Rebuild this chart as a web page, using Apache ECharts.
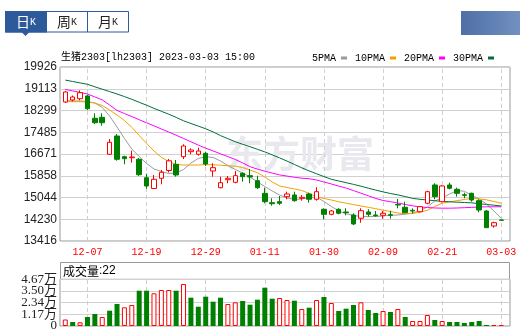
<!DOCTYPE html>
<html>
<head>
<meta charset="utf-8">
<script src="https://cdn.jsdelivr.net/npm/echarts@6/dist/echarts.min.js"></script>
<style>
  html, body { margin: 0; padding: 0; background: #fff; }
  #chart { width: 520px; height: 334px; }
</style>
</head>
<body>
<div id="chart"></div>
<script>
// trading days shown on the K-line
const dates = [
  '12-02', '12-05', '12-06', '12-07', '12-08', '12-09', '12-12', '12-13', '12-14', '12-15',
  '12-16', '12-19', '12-20', '12-21', '12-22', '12-23', '12-26', '12-27', '12-28', '12-29',
  '12-30', '01-03', '01-04', '01-05', '01-06', '01-09', '01-10', '01-11', '01-12', '01-13',
  '01-16', '01-17', '01-18', '01-19', '01-20', '01-30', '01-31', '02-01', '02-02', '02-03',
  '02-06', '02-07', '02-08', '02-09', '02-10', '02-13', '02-14', '02-15', '02-16', '02-17',
  '02-20', '02-21', '02-22', '02-23', '02-24', '02-27', '02-28', '03-01', '03-02', '03-03'
];

// [open, close, low, high]
const ohlc = [
  [18617, 18991, 18580, 19028], [18692, 18804, 18636, 18860], [18740, 18965, 18680, 19054],
  [18841, 18366, 18318, 18890], [18007, 17842, 17794, 18194], [18044, 17842, 17730, 18194],
  [16660, 17109, 16634, 17233], [17345, 16473, 16421, 17420], [16570, 16496, 16286, 16608],
  [16533, 16559, 16346, 16795], [16473, 15897, 15849, 16522], [15785, 15474, 15373, 15934],
  [15381, 15725, 15373, 15886], [15762, 15987, 15538, 16071], [16054, 16417, 15979, 16484],
  [16286, 15886, 15823, 16447], [16570, 16971, 16484, 17034], [16757, 16821, 16660, 16885],
  [16660, 16783, 16608, 16907], [16697, 16297, 16222, 16757], [16035, 16159, 15823, 16323],
  [15411, 15598, 15388, 15823], [15710, 15762, 15575, 15849], [15613, 15860, 15575, 16035],
  [15950, 15823, 15635, 15987], [15860, 15812, 15575, 16110], [15673, 15411, 15362, 15860],
  [15201, 14888, 14828, 15411], [14850, 14812, 14738, 15014], [14888, 14828, 14763, 15100],
  [15074, 15175, 14977, 15261], [15138, 14924, 14888, 15261], [15014, 15051, 14924, 15138],
  [15175, 14977, 14850, 15224], [14977, 15261, 14924, 15426], [14603, 14415, 14228, 14640],
  [14415, 14539, 14378, 14576], [14603, 14453, 14415, 14640], [14502, 14477, 14378, 14640],
  [14389, 14053, 14015, 14453], [14266, 14550, 14101, 14640], [14502, 14415, 14326, 14603],
  [14389, 14363, 14326, 14539], [14378, 14453, 14251, 14539], [14400, 14378, 14251, 14550],
  [14780, 14763, 14640, 14988], [14677, 14477, 14453, 14887], [14565, 14539, 14453, 14640],
  [14513, 14700, 14490, 14726], [14827, 15261, 14790, 15298], [15512, 15074, 14977, 15575],
  [14887, 15475, 14864, 15512], [15512, 15388, 15350, 15598], [15350, 15201, 15074, 15411],
  [15149, 15125, 15014, 15224], [15201, 14950, 14887, 15224], [14925, 14576, 14490, 14976],
  [14539, 13914, 13914, 14576], [13978, 14101, 13914, 14139], [14202, 14190, 14180, 14214]
];

const ma5 = [
  18673, 18654, 18654, 18635, 18579, 18411, 18093, 17681, 17251, 16858,
  16578, 16316, 16110, 16017, 15942, 15961, 16091, 16335, 16503, 16570,
  16540, 16409, 16241, 16091, 15961, 15811, 15624, 15455, 15287, 15138,
  15025, 14969, 14988, 15044, 15063, 14894, 14707, 14539, 14434, 14371,
  14333, 14326, 14333, 14352, 14378, 14389, 14419, 14464, 14558, 14689,
  14913, 15025, 15175, 15298, 15280, 15119, 14995, 14801, 14539, 14259
];
const ma10 = [
  18628, 18628, 18628, 18617, 18579, 18486, 18317, 18130, 17925, 17670,
  17363, 17068, 16784, 16548, 16383, 16279, 16260, 16260, 16260, 16271,
  16271, 16252, 16230, 16215, 16166, 16073, 15968, 15811, 15624, 15474,
  15418, 15362, 15306, 15194, 15074, 15007, 14950, 14883, 14831, 14778,
  14726, 14677, 14625, 14569, 14520, 14464, 14434, 14445, 14494, 14565,
  14707, 14831, 14876, 14924, 14969, 15014, 14988, 14958, 14894, 14827
];
const ma20 = [
  19088, 19032, 18976, 18916, 18807, 18695, 18504, 18302, 18186, 18070,
  17954, 17839, 17723, 17607, 17491, 17375, 17251, 17128, 17004, 16888,
  16784, 16679, 16574, 16466, 16338, 16196, 16106, 16028, 15957, 15889,
  15845, 15800, 15766, 15747, 15698, 15624, 15549, 15471, 15396, 15302,
  15205, 15108, 15007, 14932, 14887, 14838, 14782, 14733, 14689, 14670,
  14651, 14644, 14644, 14651, 14662, 14674, 14689, 14696, 14696, 14696
];
const ma30 = [
  19436, 19384, 19331, 19279, 19185, 19095, 19006, 18916, 18819, 18718,
  18605, 18497, 18377, 18269, 18160, 18041, 17913, 17812, 17715, 17614,
  17498, 17360, 17244, 17131, 17034, 16944, 16847, 16750, 16638, 16525,
  16406, 16279, 16155, 16039, 15931, 15826, 15725, 15661, 15598, 15534,
  15467, 15392, 15321, 15253, 15193, 15141, 15078, 15010, 14976, 14950,
  14924, 14898, 14883, 14868, 14857, 14842, 14812, 14782, 14756, 14726
];

// 成交量 (lots) and its colour: 1 = red (hollow), 0 = green
const volumes = [
  6500, 4000, 3700, 9000, 12000, 9000, 15300, 22000, 18700, 21000,
  35300, 35300, 32700, 36000, 36000, 35300, 42000, 28300, 19300, 29300,
  24300, 28300, 22000, 23700, 25000, 21300, 26300, 38300, 27300, 28000,
  26000, 25300, 17000, 18300, 26000, 29000, 23000, 15000, 17300, 21000,
  23700, 16000, 13000, 15000, 14000, 17000, 9000, 5000, 5000, 11000,
  6000, 5000, 4000, 4000, 3000, 4000, 5000, 1000, 1000, 22
];
const volUp = [
  1, 0, 1, 0, 0, 1, 0, 0, 1, 1,
  0, 0, 1, 1, 1, 0, 1, 0, 0, 0,
  0, 0, 1, 1, 0, 0, 0, 0, 0, 1,
  1, 0, 1, 0, 1, 0, 1, 0, 0, 0,
  1, 0, 0, 1, 0, 1, 0, 1, 1, 1,
  0, 1, 0, 0, 0, 0, 0, 0, 1, 1
];

const tickDates = ['12-07', '12-19', '12-29', '01-11', '01-30', '02-09', '02-21', '03-03'];
const priceTicks = ['13416', '14230', '15044', '15858', '16671', '17485', '18299', '19113', '19926'];
const volTicks = ['0', '1.17万', '2.34万', '3.50万', '4.67万'];
const volMax = 46700;

const RED = '#ff0000';
const GREEN = '#008000';
const BLUE = '#2d5a9b';
const FRAME = '#999';
const GRIDLINE = '#d0d0d0';
const MONO = "'Liberation Mono', 'Noto Sans CJK SC', monospace";

const chart = echarts.init(document.getElementById('chart'), null, { renderer: 'canvas' });

const vLines = {
  silent: true,
  symbol: 'none',
  z: 1,
  animation: false,
  label: { show: false },
  lineStyle: { color: GRIDLINE, type: [4, 3], width: 1 },
  data: tickDates.map((d) => ({ xAxis: d }))
};

const maLine = (name, data, color) => ({
  name,
  type: 'line',
  xAxisIndex: 1,
  yAxisIndex: 1,
  data,
  showSymbol: false,
  symbol: 'none',
  lineStyle: { width: 1, color },
  itemStyle: { color },
  z: 3
});

const tab = (label, cx, color) => ({
  type: 'text',
  x: cx,
  y: 21.5,
  style: {
    text: '{a|' + label + '}{b|K}',
    align: 'center',
    verticalAlign: 'middle',
    fill: color,
    rich: {
      a: { fontSize: 14, fontFamily: 'Noto Sans CJK SC', fill: color },
      b: { fontSize: 10, fontFamily: 'Liberation Mono', fill: color, padding: [2, 0, 0, 0] }
    }
  }
});

// volume tick labels are split over two axes so none of them gets hidden
const volAxis = (values, withLines) => ({
  type: 'value',
  gridIndex: 2,
  position: 'left',
  min: 0,
  max: volTicks.length - 1,
  interval: 1,
  axisLine: { show: false },
  axisTick: { show: false },
  splitLine: { show: withLines, lineStyle: { color: GRIDLINE, width: 1 } },
  axisLabel: {
    customValues: values,
    formatter: (v) => volTicks[v],
    showMinLabel: true,
    showMaxLabel: true,
    color: '#222',
    fontSize: 13,
    fontFamily: "'Liberation Serif', 'Noto Sans CJK SC'",
    margin: 3,
    padding: [0, 0, 3, 0]
  }
});

const option = {
  animation: false,
  title: {
    text: '生猪2303[lh2303] 2023-03-03 15:00',
    left: 56,
    top: 47,
    textStyle: { fontSize: 10, fontWeight: 'normal', fontFamily: MONO, color: '#000' }
  },
  legend: {
    right: 21,
    top: 48,
    align: 'right',
    icon: 'rect',
    itemWidth: 6,
    itemHeight: 3,
    itemGap: 8,
    textStyle: { fontSize: 10, fontFamily: MONO, color: '#000' },
    data: ['5PMA', '10PMA', '20PMA', '30PMA']
  },
  grid: [
    { left: 60, top: 67, width: 450, height: 174, show: true, borderColor: FRAME, borderWidth: 1 },
    { left: 61.6, top: 67, width: 443.4, height: 174 },
    { left: 60, top: 279.3, width: 450, height: 46.7, show: true, borderColor: FRAME, borderWidth: 1 },
    { left: 61.6, top: 279.3, width: 443.4, height: 46.7 }
  ],
  xAxis: [
    { type: 'value', gridIndex: 0, min: 0, max: 1, show: false },
    {
      type: 'category',
      gridIndex: 1,
      data: dates,
      boundaryGap: true,
      axisLine: { show: false },
      axisTick: { show: false },
      splitLine: { show: false },
      axisLabel: {
        interval: (i, v) => tickDates.includes(v),
        color: RED,
        fontSize: 10,
        fontFamily: 'Liberation Mono',
        margin: 6
      }
    },
    { type: 'value', gridIndex: 2, min: 0, max: 1, show: false },
    { type: 'category', gridIndex: 3, data: dates, boundaryGap: true, show: false }
  ],
  yAxis: [
    {
      type: 'value',
      gridIndex: 0,
      min: 0,
      max: priceTicks.length - 1,
      interval: 1,
      axisLine: { show: false },
      axisTick: { show: false },
      splitLine: { lineStyle: { color: GRIDLINE, width: 1 } },
      axisLabel: {
        formatter: (v) => priceTicks[v],
        showMinLabel: true,
        showMaxLabel: true,
        color: '#222',
        fontSize: 12,
        fontFamily: 'Liberation Sans',
        margin: 3
      }
    },
    {
      type: 'value',
      gridIndex: 1,
      min: Number(priceTicks[0]),
      max: Number(priceTicks[priceTicks.length - 1]),
      show: false
    },
    volAxis([0, 2, 4], true),
    { type: 'value', gridIndex: 3, min: 0, max: volMax, show: false },
    volAxis([1, 3], false)
  ],
  graphic: [
    // 日K / 周K / 月K tabs
    { type: 'rect', shape: { x: 5.5, y: 11.5, width: 123, height: 20.5 }, style: { fill: '#fff', stroke: BLUE, lineWidth: 1 } },
    { type: 'rect', shape: { x: 5, y: 11, width: 42, height: 21.5 }, style: { fill: BLUE } },
    { type: 'polygon', shape: { points: [[21.5, 32], [29.5, 32], [25.5, 36]] }, style: { fill: BLUE } },
    { type: 'line', shape: { x1: 87.5, y1: 11.5, x2: 87.5, y2: 32 }, style: { stroke: BLUE, lineWidth: 1 } },
    tab('日', 26, '#fff'),
    tab('周', 67, '#222'),
    tab('月', 108, '#222'),
    // blurred search box at the top right
    {
      type: 'rect',
      shape: { x: 461, y: 11, width: 59, height: 24 },
      style: {
        fill: new echarts.graphic.LinearGradient(0, 0, 1, 0, [
          { offset: 0, color: '#4f6fa6' },
          { offset: 0.5, color: '#5f80b3' },
          { offset: 1, color: '#7390c0' }
        ])
      }
    },
    // volume panel header
    { type: 'rect', shape: { x: 60.5, y: 262.5, width: 449, height: 17 }, style: { fill: 'none', stroke: FRAME, lineWidth: 1 } },
    {
      type: 'text',
      x: 63,
      y: 271,
      style: {
        text: '{a|成交量}{b|:' + volumes[volumes.length - 1] + '}',
        verticalAlign: 'middle',
        rich: {
          a: { fontSize: 12, fontFamily: 'Noto Sans CJK SC', fill: '#000' },
          b: { fontSize: 12, fontFamily: 'Liberation Sans', fill: '#000' }
        }
      }
    },
    // watermark
    {
      type: 'text',
      x: 300,
      y: 154,
      z: 1,
      style: {
        text: '东方财富',
        align: 'center',
        verticalAlign: 'middle',
        fontSize: 37,
        fontWeight: 'bold',
        fontFamily: 'Noto Sans CJK SC',
        fill: '#e8e8ee'
      }
    }
  ],
  series: [
    {
      name: 'K',
      type: 'candlestick',
      xAxisIndex: 1,
      yAxisIndex: 1,
      data: ohlc,
      barWidth: 5,
      z: 4,
      itemStyle: {
        color: '#fff',
        color0: GREEN,
        borderColor: RED,
        borderColor0: GREEN,
        borderWidth: 1
      },
      markLine: vLines
    },
    maLine('5PMA', ma5, '#9a9a9a'),
    maLine('10PMA', ma10, '#f2a100'),
    maLine('20PMA', ma20, '#ff00ff'),
    maLine('30PMA', ma30, '#006f3a'),
    {
      name: '成交量',
      type: 'bar',
      xAxisIndex: 3,
      yAxisIndex: 3,
      barWidth: 5,
      barMinHeight: 1,
      z: 4,
      data: volumes.map((v, i) => ({
        value: v,
        itemStyle: volUp[i]
          ? { color: '#fff', borderColor: RED, borderWidth: 1 }
          : { color: GREEN }
      })),
      markLine: vLines
    }
  ]
};

chart.setOption(option);
</script>
</body>
</html>
